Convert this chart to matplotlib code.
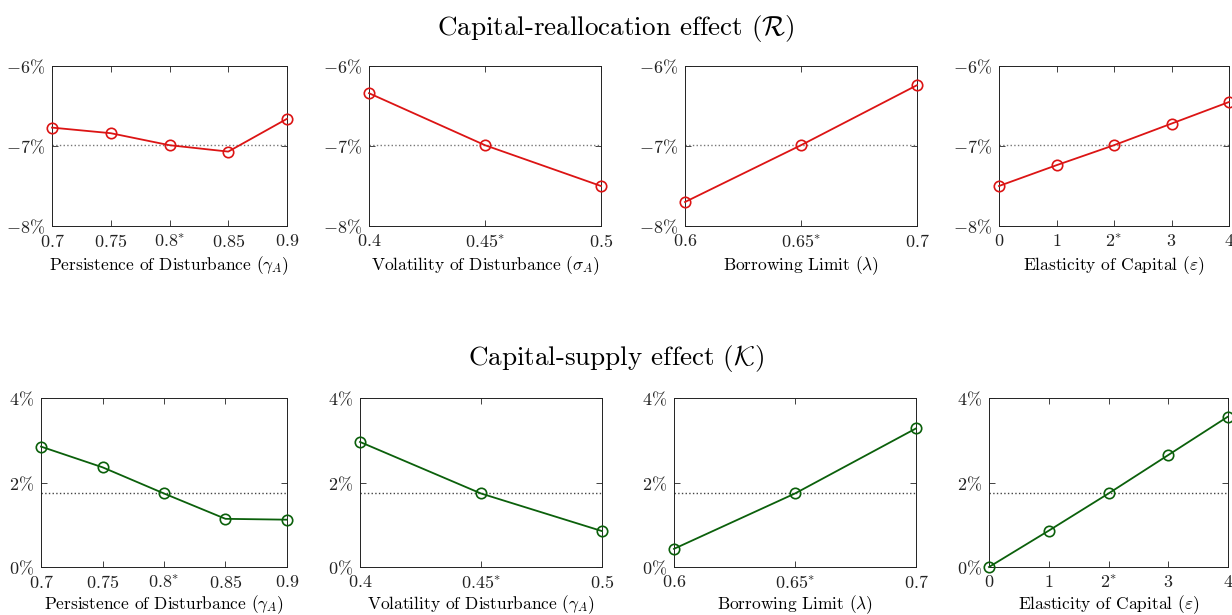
import matplotlib
matplotlib.use("Agg")
import matplotlib.pyplot as plt

plt.rcParams["font.family"] = "serif"
plt.rcParams["font.serif"] = ["cmr10", "DejaVu Serif"]
plt.rcParams["mathtext.fontset"] = "cm"
plt.rcParams["axes.unicode_minus"] = False

# parameter grids
gamma_x = [0.7, 0.75, 0.8, 0.85, 0.9]
sigma_x = [0.4, 0.45, 0.5]
lambda_x = [0.6, 0.65, 0.7]
eps_x = [0, 1, 2, 3, 4]

gamma_ticks = [r"$0.7$", r"$0.75$", r"$0.8^{*}$", r"$0.85$", r"$0.9$"]
sigma_ticks = [r"$0.4$", r"$0.45^{*}$", r"$0.5$"]
lambda_ticks = [r"$0.6$", r"$0.65^{*}$", r"$0.7$"]
eps_ticks = [r"$0$", r"$1$", r"$2^{*}$", r"$3$", r"$4$"]

# capital-reallocation effect (%)
realloc_gamma = [-6.77, -6.84, -6.99, -7.07, -6.66]
realloc_sigma = [-6.34, -6.99, -7.50]
realloc_lambda = [-7.70, -6.99, -6.24]
realloc_eps = [-7.50, -7.24, -6.99, -6.72, -6.45]
realloc_base = -6.99

# capital-supply effect (%)
supply_gamma = [2.85, 2.36, 1.74, 1.14, 1.12]
supply_sigma = [2.96, 1.74, 0.85]
supply_lambda = [0.43, 1.74, 3.28]
supply_eps = [0.0, 0.86, 1.74, 2.65, 3.56]
supply_base = 1.74

xlabels = [
    r"Persistence of Disturbance ($\gamma_A$)",
    r"Volatility of Disturbance ($\sigma_A$)",
    r"Borrowing Limit ($\lambda$)",
    r"Elasticity of Capital ($\varepsilon$)",
]
xlabels_bottom = [
    r"Persistence of Disturbance ($\gamma_A$)",
    r"Volatility of Disturbance ($\gamma_A$)",
    r"Borrowing Limit ($\lambda$)",
    r"Elasticity of Capital ($\varepsilon$)",
]

W, H = 1232, 615
fig = plt.figure(figsize=(W / 100, H / 100), dpi=100)


def px_axes(x0, x1, y0, y1):
    return fig.add_axes([x0 / W, 1 - y1 / H, (x1 - x0) / W, (y1 - y0) / H])


top_boxes = [(52, 287), (369, 601), (685, 917), (999, 1229)]
bot_boxes = [(41, 287), (360, 602), (674, 916), (989, 1228)]

xs = [gamma_x, sigma_x, lambda_x, eps_x]
xt = [gamma_ticks, sigma_ticks, lambda_ticks, eps_ticks]
top_vals = [realloc_gamma, realloc_sigma, realloc_lambda, realloc_eps]
bot_vals = [supply_gamma, supply_sigma, supply_lambda, supply_eps]

RED = "#dc1414"
GREEN = "#0b600b"


def style(ax, x, ticks, label, pad):
    ax.set_xlim(x[0], x[-1])
    ax.set_xticks(x)
    ax.set_xticklabels(ticks)
    ax.tick_params(direction="in", top=True, right=True, labelsize=13,
                   length=4, width=0.6, colors="#222222", pad=5)
    for s in ax.spines.values():
        s.set_linewidth(0.7)
        s.set_color("#222222")
    ax.set_xlabel(label, fontsize=12.5, labelpad=pad)


for i in range(4):
    ax = px_axes(*top_boxes[i], 66, 226)
    ax.axhline(realloc_base, color="#777777", linestyle=":", linewidth=1.0)
    ax.plot(xs[i], top_vals[i], color=RED, linewidth=1.3, marker="o",
            markersize=7.5, markerfacecolor="none", markeredgewidth=1.2,
            clip_on=False, zorder=5)
    ax.set_ylim(-8, -6)
    ax.set_yticks([-8, -7, -6])
    ax.set_yticklabels([r"$-8\%$", r"$-7\%$", r"$-6\%$"])
    style(ax, xs[i], xt[i], xlabels[i], 3)

    ax = px_axes(*bot_boxes[i], 398, 567)
    ax.axhline(supply_base, color="#444444", linestyle=":", linewidth=1.0)
    ax.plot(xs[i], bot_vals[i], color=GREEN, linewidth=1.3, marker="o",
            markersize=7.5, markerfacecolor="none", markeredgewidth=1.2,
            clip_on=False, zorder=5)
    ax.set_ylim(0, 4)
    ax.set_yticks([0, 2, 4])
    ax.set_yticklabels([r"$0\%$", r"$2\%$", r"$4\%$"])
    style(ax, xs[i], xt[i], xlabels_bottom[i], 1.5)

fig.text(0.5, 1 - 28 / H, r"Capital-reallocation effect ($\mathcal{R}$)",
         ha="center", va="center", fontsize=19.5)
fig.text(0.5, 1 - 359 / H, r"Capital-supply effect ($\mathcal{K}$)",
         ha="center", va="center", fontsize=19.5)

fig.savefig("out.png", dpi=100)
